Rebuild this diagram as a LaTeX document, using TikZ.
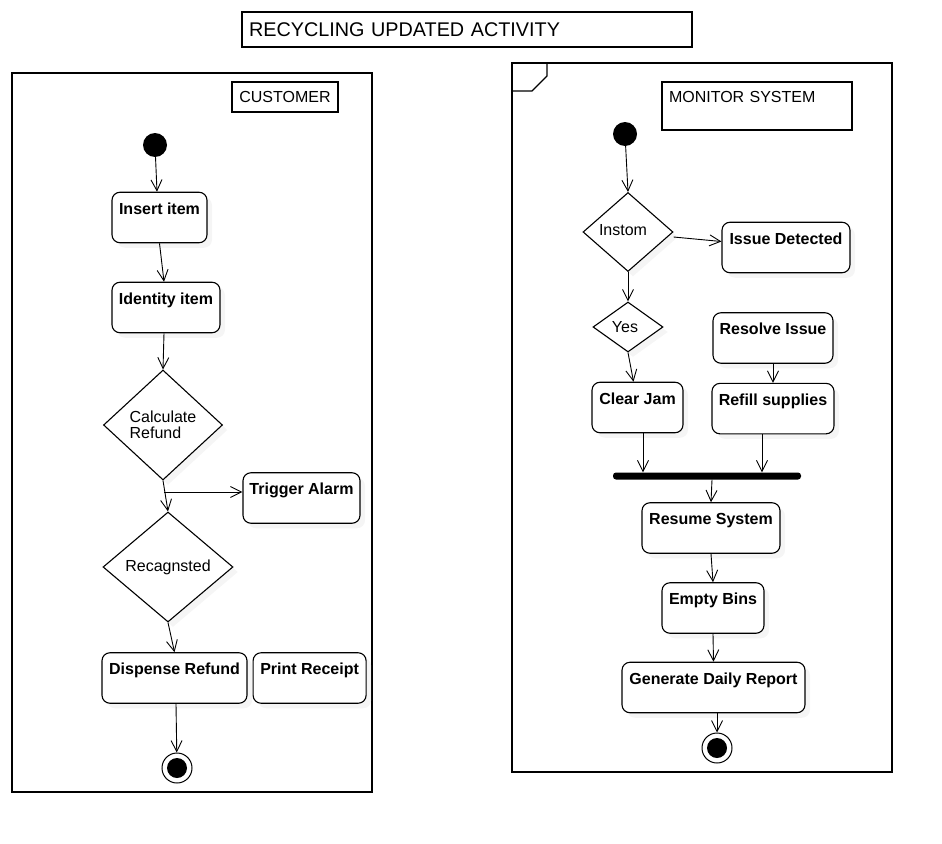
\documentclass[tikz,border=0pt]{standalone}
\usepackage{fontspec}
\setmainfont{Liberation Sans}
\usepackage{tikz}
\usetikzlibrary{arrows.meta}
\usetikzlibrary{calc}
\usetikzlibrary{positioning}
\usetikzlibrary{shadows}
\usetikzlibrary{shapes.geometric}

\begin{document}
\begin{tikzpicture}
  [
    x = 1pt, y = -1pt,
    node distance = 20pt and 5pt,
    font = \fontsize{16}{19}\selectfont,
    shade/.style = {drop shadow = {fill = black!8, shadow xshift = 5pt, shadow yshift = -5pt}},
    act/.style = {draw, line width = 1.1pt, rounded corners = 8pt, fill = white, shade,
                  font = \fontsize{16}{19}\selectfont\bfseries, inner ysep = 0pt,
                  text height = 22pt, text depth = 28.5pt},
    dec/.style = {draw, diamond, line width = 1.1pt, fill = white, shade, inner sep = 0pt},
    init/.style = {circle, fill = black, minimum size = 24pt, inner sep = 0pt},
    final/.style = {circle, draw, line width = 1pt, fill = white, minimum size = 30pt, inner sep = 0pt,
                    path picture = {\fill[black] (path picture bounding box.center) circle (10pt);}},
    frame/.style = {draw, line width = 1.2pt},
    tag/.style = {draw, line width = 1.1pt, fill = white, inner sep = 0pt},
    arrow/.style = {-{Straight Barb[length = 11pt, width = 11pt]}, line width = 0.9pt},
  ]
  \useasboundingbox (0,0) rectangle (942,843);

  % title
  \node[tag, minimum height = 35pt, text width = 436pt, inner xsep = 7pt, align = left,
        font = \fontsize{19.8}{23}\selectfont] (title) at (467,29.5) {RECYCLING UPDATED ACTIVITY};

  % customer lane
  \draw[frame] (12,73) rectangle (372,792);
  \node[tag, minimum width = 106pt, minimum height = 30pt] (cust) at (285,97) {CUSTOMER};

  \node[init] (st1) at (155,145) {};
  \node[act, minimum width = 95pt] (ins) at (159.5,217.5) {Insert item};
  \node[act, minimum width = 108pt] (idt) at (166,307.5) {Identity item};
  \node[dec, minimum width = 119pt, minimum height = 110pt, align = left] (calc) at (163,425)
    {Calculate\\[-3pt]Refund};
  \node[act, minimum width = 117pt] (alarm) at (301.5,498) {Trigger Alarm};
  \node[dec, minimum width = 130pt, minimum height = 110pt] (rec) at (168,567) {Recagnsted};
  \node[act, minimum width = 145pt] (disp) at (174.5,678) {Dispense Refund};
  \node[act, minimum width = 113pt] [right = of disp] (prt) {Print Receipt};
  \node[final] (end1) at (177,768) {};
  \coordinate (split) at (164,492);

  \draw[arrow] (st1) -- ([xshift = 2pt]st1 |- ins.north);
  \draw[arrow] (ins.south) -- ([xshift = -2pt]idt.north);
  \draw[arrow] ([xshift = -2pt]idt.south) -- (calc.north);
  \draw[arrow] (calc.south) -- (rec.north);
  \draw[arrow] (split) -- (split -| alarm.west);
  \draw[arrow] (rec.south) -- (disp.north);
  \draw[arrow] ([xshift = 1.5pt]disp.south) -- (end1);

  % monitor lane
  \draw[frame] (512,63) rectangle (892,772);
  \draw[frame] (512,91) -- (532,91) -- (547,76) -- (547,63);
  \node[tag, minimum height = 48pt, text width = 176pt, inner xsep = 7pt, align = left,
        text height = 20pt, text depth = 28pt] (mon) at (757,106) {MONITOR SYSTEM};

  \node[init] (st2) at (625,134) {};
  \node[dec, minimum width = 90pt, minimum height = 79pt] (inst) at (628,232)
    {Instom\hspace*{10pt}\vphantom{y}\\[8pt]};
  \node[act, minimum width = 128pt] (iss) at (786,247.5) {Issue Detected};
  \node[dec, minimum width = 70pt, minimum height = 50pt] (yes) at (628,327) {Yes\hspace*{6pt}};
  \node[act, minimum width = 91pt] (cj) at (637.5,407.5) {Clear Jam};
  \node[act, minimum width = 120pt] (res) at (773,338) {Resolve Issue};
  \node[act, minimum width = 122pt] [below = 19pt of res] (ref) {Refill supplies};
  \node[fill = black, rounded corners = 3pt, minimum width = 188pt, minimum height = 7pt,
        inner sep = 0pt] (fork) at (707,476) {};
  \node[act, minimum width = 138pt] (rsm) at (711,528) {Resume System};
  \node[act, minimum width = 102pt] (emp) at (713,608) {Empty Bins};
  \node[act, minimum width = 183pt] (gen) at (713.5,687.5) {Generate Daily Report};
  \node[final] (end2) at (717,748) {};

  \draw[arrow] (st2) -- (inst.north);
  \draw[arrow] ([yshift = -5pt]inst.east) -- ([yshift = 6pt]iss.west);
  \draw[arrow] (inst.south) -- (yes.north);
  \draw[arrow] (yes.south) -- ([xshift = -4pt]cj.north);
  \draw[arrow] (res.south) -- (ref.north);
  \draw[arrow] ([xshift = 5.5pt]cj.south) -- ([xshift = 5.5pt]cj.south |- fork.north);
  \draw[arrow] ([xshift = -11pt]ref.south) -- ([xshift = -11pt]ref.south |- fork.north);
  \draw[arrow] ([xshift = 5pt]fork.south) -- (rsm.north);
  \draw[arrow] (rsm.south) -- (emp.north);
  \draw[arrow] (emp.south) -- (gen.north);
  \draw[arrow] ([xshift = 3.5pt]gen.south) -- (end2);

\end{tikzpicture}
\end{document}
